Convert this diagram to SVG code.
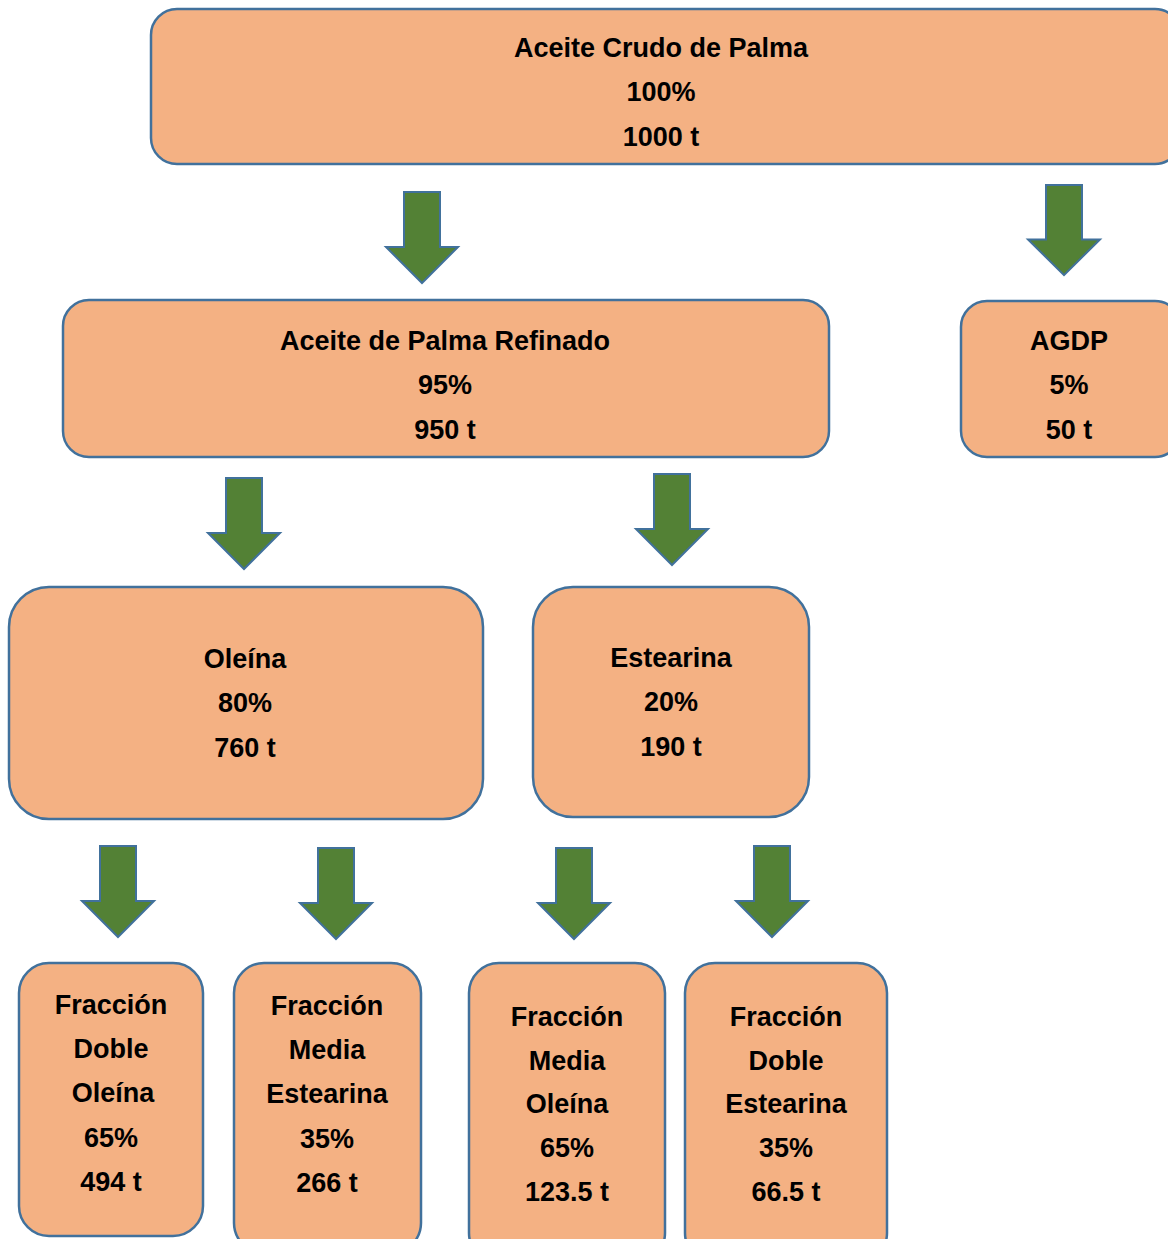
<svg xmlns="http://www.w3.org/2000/svg" width="1168" height="1239" viewBox="0 0 1168 1239">
<defs>
<style>
.box{fill:#F4B183;stroke:#41719C;stroke-width:2.5}
.arr{fill:#538135;stroke:#41719C;stroke-width:2;stroke-linejoin:miter}
text{font-family:"Liberation Sans",Arial,sans-serif;font-weight:bold;font-size:27px;fill:#000;text-anchor:middle}
</style>
<path id="arrow" d="M-18,0 H18 V55 H36 L0,91 L-36,55 H-18 Z"/>
</defs>
<rect width="1168" height="1239" fill="#fff"/>
<g id="connectors">
<use href="#arrow" class="arr" transform="translate(422,192)"/>
<use href="#arrow" class="arr" transform="translate(1064,185) scale(1,0.99)"/>
<use href="#arrow" class="arr" transform="translate(244,478)"/>
<use href="#arrow" class="arr" transform="translate(672,474)"/>
<use href="#arrow" class="arr" transform="translate(118,846)"/>
<use href="#arrow" class="arr" transform="translate(336,848)"/>
<use href="#arrow" class="arr" transform="translate(574,848)"/>
<use href="#arrow" class="arr" transform="translate(772,846)"/>
</g>
<g id="n-crudo">
<rect class="box" x="151" y="9" width="1030" height="155" rx="26"/>
<text x="661" y="57">Aceite Crudo de Palma</text>
<text x="661" y="101">100%</text>
<text x="661" y="146">1000 t</text>
</g>
<g id="n-refinado">
<rect class="box" x="63" y="300" width="766" height="157" rx="26"/>
<text x="445" y="350">Aceite de Palma Refinado</text>
<text x="445" y="394">95%</text>
<text x="445" y="439">950 t</text>
</g>
<g id="n-agdp">
<rect class="box" x="961" y="301" width="220" height="156" rx="26"/>
<text x="1069" y="350">AGDP</text>
<text x="1069" y="394">5%</text>
<text x="1069" y="439">50 t</text>
</g>
<g id="n-oleina">
<rect class="box" x="9" y="587" width="474" height="232" rx="40"/>
<text x="245" y="668">Oleína</text>
<text x="245" y="712">80%</text>
<text x="245" y="757">760 t</text>
</g>
<g id="n-estearina">
<rect class="box" x="533" y="587" width="276" height="230" rx="40"/>
<text x="671" y="667">Estearina</text>
<text x="671" y="711">20%</text>
<text x="671" y="756">190 t</text>
</g>
<g id="n-fdo">
<rect class="box" x="19" y="963" width="184" height="273" rx="30"/>
<text x="111" y="1014">Fracción</text>
<text x="111" y="1058">Doble</text>
<text x="113" y="1102">Oleína</text>
<text x="111" y="1147">65%</text>
<text x="111" y="1191">494 t</text>
</g>
<g id="n-fme">
<rect class="box" x="234" y="963" width="187" height="290" rx="30"/>
<text x="327" y="1015">Fracción</text>
<text x="327" y="1059">Media</text>
<text x="327" y="1103">Estearina</text>
<text x="327" y="1148">35%</text>
<text x="327" y="1192">266 t</text>
</g>
<g id="n-fmo">
<rect class="box" x="469" y="963" width="196" height="300" rx="30"/>
<text x="567" y="1026">Fracción</text>
<text x="567" y="1070">Media</text>
<text x="567" y="1113">Oleína</text>
<text x="567" y="1157">65%</text>
<text x="567" y="1201">123.5 t</text>
</g>
<g id="n-fde">
<rect class="box" x="685" y="963" width="202" height="300" rx="30"/>
<text x="786" y="1026">Fracción</text>
<text x="786" y="1070">Doble</text>
<text x="786" y="1113">Estearina</text>
<text x="786" y="1157">35%</text>
<text x="786" y="1201">66.5 t</text>
</g>
</svg>
